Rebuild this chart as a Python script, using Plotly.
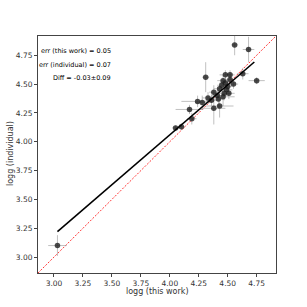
import plotly.graph_objects as go

logg_this = [3.03, 4.05, 4.10, 4.19, 4.17, 4.24, 4.28, 4.36, 4.38, 4.43, 4.38, 4.31,
             4.41, 4.42, 4.46, 4.47, 4.51, 4.43, 4.49, 4.45, 4.48, 4.52, 4.48, 4.52,
             4.63, 4.75, 4.56, 4.68, 4.50, 4.46, 4.55, 4.33]
logg_ind = [3.10, 4.12, 4.13, 4.20, 4.28, 4.35, 4.34, 4.36, 4.29, 4.31, 4.43, 4.56,
            4.40, 4.37, 4.39, 4.42, 4.42, 4.46, 4.45, 4.49, 4.51, 4.54, 4.58, 4.58,
            4.59, 4.53, 4.84, 4.80, 4.48, 4.53, 4.50, 4.38]
err_this = [0.08, 0.03, 0.03, 0.04, 0.12, 0.14, 0.06, 0.05, 0.10, 0.12, 0.04, 0.03,
            0.05, 0.04, 0.10, 0.06, 0.05, 0.05, 0.05, 0.04, 0.05, 0.04, 0.05, 0.04,
            0.05, 0.07, 0.03, 0.05, 0.04, 0.05, 0.04, 0.05]
err_ind = [0.09, 0.02, 0.03, 0.05, 0.04, 0.05, 0.06, 0.05, 0.14, 0.10, 0.06, 0.13,
           0.05, 0.08, 0.08, 0.06, 0.05, 0.05, 0.05, 0.04, 0.05, 0.05, 0.04, 0.04,
           0.05, 0.03, 0.09, 0.11, 0.05, 0.05, 0.04, 0.05]

fit_x = [3.03, 4.73]
fit_slope = 0.865
fit_intercept = 0.600
fit_y = [fit_intercept + fit_slope * v for v in fit_x]

axis_range = [2.862, 4.917]
stats_lines = ["err (this work) = 0.05", "err (individual) = 0.07", "Diff = -0.03\u00b10.09"]
x_title = "logg (this work)"
y_title = "logg (individual)"

FONT = "DejaVu Sans"
left, right, top, bottom = 38, 276, 36, 273
W = right - left
H = bottom - top

def px_x(p):
    return (p - left) / W

def px_y(p):
    return 1 - (p - top) / H

fig = go.Figure()
fig.add_trace(go.Scatter(
    x=axis_range, y=axis_range, mode="lines",
    line=dict(color="red", width=0.8, dash="2px,1.5px"), showlegend=False, hoverinfo="skip"))
fig.add_trace(go.Scatter(
    x=logg_this, y=logg_ind, mode="markers",
    error_x=dict(type="data", array=err_this, color="rgba(150,150,150,0.6)", thickness=1, width=0),
    error_y=dict(type="data", array=err_ind, color="rgba(150,150,150,0.6)", thickness=1, width=0),
    marker=dict(color="rgba(30,30,30,0.8)", size=5.5), showlegend=False))
fig.add_trace(go.Scatter(
    x=fit_x, y=fit_y, mode="lines",
    line=dict(color="black", width=1.6), showlegend=False))

for i, t in enumerate(stats_lines):
    fig.add_annotation(x=px_x(113), y=px_y(51 + i * 13.6), xref="x domain", yref="y domain", text=t,
                       showarrow=False, xanchor="right", yanchor="middle",
                       font=dict(size=6.5, color="black", family=FONT))

fig.add_annotation(x=px_x(157), y=px_y(291), xref="x domain", yref="y domain", text=x_title,
                   showarrow=False, xanchor="center", yanchor="middle",
                   font=dict(size=8, color="#333", family=FONT))
fig.add_annotation(x=px_x(10), y=px_y(154), xref="x domain", yref="y domain", text=y_title,
                   showarrow=False, xanchor="center", yanchor="middle", textangle=-90,
                   font=dict(size=8, color="#333", family=FONT))

axis_common = dict(range=axis_range, dtick=0.25, tick0=3.0, tickformat=".2f",
                   showgrid=False, zeroline=False, showline=True, mirror=True,
                   linecolor="#444", linewidth=1, ticks="outside", ticklen=3,
                   tickcolor="#444", automargin=False,
                   tickfont=dict(size=7.5, color="#333", family=FONT))
fig.update_xaxes(**axis_common)
fig.update_yaxes(**axis_common)

fig.update_layout(width=307, height=307, margin=dict(l=left, r=307 - right, t=top, b=307 - bottom),
                  plot_bgcolor="white", paper_bgcolor="white")
fig.write_html("out.html", config={"displayModeBar": False},
               post_script="document.body.style.margin='0';document.body.style.padding='0';")
